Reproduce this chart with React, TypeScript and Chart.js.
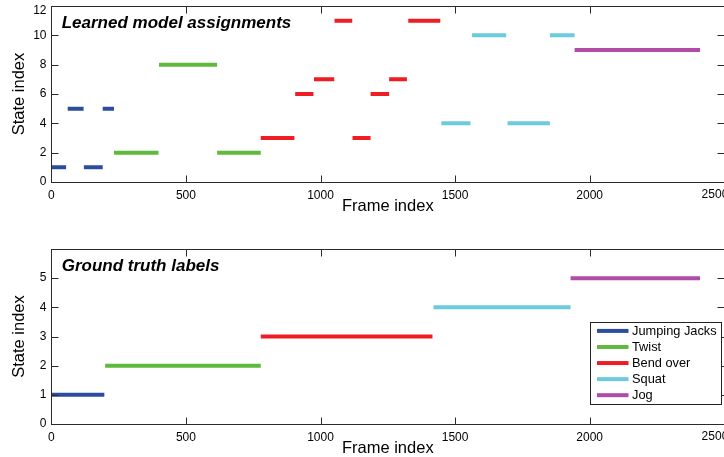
import React, { useEffect, useRef } from 'react';
import { Chart, registerables } from 'chart.js';

Chart.register(...registerables);

// ---- data ----
const activities = ['Jumping Jacks', 'Twist', 'Bend over', 'Squat', 'Jog'];

// Learned model assignments: segments (frame start, frame end, state index, activity)
const learnedStart = [0, 61, 121, 191, 233, 400, 616, 778, 906, 976, 1052, 1119, 1186, 1255, 1326, 1449, 1563, 1695, 1852, 1944];
const learnedEnd = [55, 120, 191, 233, 398, 616, 778, 903, 974, 1051, 1118, 1186, 1255, 1321, 1445, 1557, 1690, 1852, 1944, 2410];
const learnedState = [1, 5, 1, 5, 2, 8, 2, 3, 6, 7, 11, 3, 6, 7, 11, 4, 10, 4, 10, 9];
const learnedActivity = [0, 0, 0, 0, 1, 1, 1, 2, 2, 2, 2, 2, 2, 2, 2, 3, 3, 3, 3, 4];

// Ground truth labels
const truthStart = [0, 200, 778, 1420, 1929];
const truthEnd = [197, 778, 1416, 1929, 2410];
const truthState = [1, 2, 3, 4, 5];
const truthActivity = [0, 1, 2, 3, 4];

const xTickStep = 500;
const xMax = 2500;
const topYMax = 12;
const topYStep = 2;
const botYMax = 6;
const botYLastTick = 5;

// ---- styles ----
const colors = ['#2b4c9f', '#5dba3d', '#ee1d24', '#6bcbdc', '#b24ba5'];
const FAMILY = '"Liberation Sans", Arial, Helvetica, sans-serif';

function buildDatasets(starts: number[], ends: number[], states: number[], acts: number[]) {
  return activities.map((name, k) => {
    const data: { x: number; y: number | null }[] = [];
    for (let i = 0; i < starts.length; i++) {
      if (acts[i] !== k) continue;
      data.push({ x: starts[i], y: states[i] }, { x: ends[i], y: states[i] }, { x: ends[i], y: null });
    }
    return {
      label: name,
      data,
      borderColor: colors[k],
      backgroundColor: colors[k],
      borderWidth: 4,
      pointRadius: 0,
      pointHoverRadius: 0,
      borderCapStyle: 'butt' as const,
      spanGaps: false,
      fill: false,
      tension: 0,
    };
  });
}

const panelPlugin = {
  id: 'panel',
  afterDatasetsDraw(chart: any, _args: any, opts: any) {
    const { ctx, chartArea: a, scales } = chart;
    ctx.save();
    const L = Math.round(a.left) + 0.5;
    const R = Math.round(a.right) + 0.5;
    const T = Math.round(a.top) + 0.5;
    const B = Math.round(a.bottom) + 0.5;
    ctx.strokeStyle = '#2a2a2a';
    ctx.lineWidth = 1;
    ctx.strokeRect(L, T, R - L, B - T);
    const tl = 7;
    ctx.beginPath();
    scales.x.ticks.forEach((t: any) => {
      const px = Math.round(scales.x.getPixelForValue(t.value)) + 0.5;
      ctx.moveTo(px, B);
      ctx.lineTo(px, B - tl);
      ctx.moveTo(px, T);
      ctx.lineTo(px, T + tl);
    });
    scales.y.ticks.forEach((t: any) => {
      const py = Math.round(scales.y.getPixelForValue(t.value)) + 0.5;
      ctx.moveTo(L, py);
      ctx.lineTo(L + tl, py);
      ctx.moveTo(R, py);
      ctx.lineTo(R - tl, py);
    });
    ctx.stroke();

    ctx.fillStyle = '#000';
    ctx.font = `12px ${FAMILY}`;
    // top y label pushed inside the visible figure (as in the original crop)
    if (opts && opts.topLabel) {
      ctx.textAlign = 'right';
      ctx.textBaseline = 'middle';
      ctx.fillText(opts.topLabel, a.left - 4.8, a.top + 5);
    }
    // last x label shifted left, partly cut by the figure edge
    if (opts && opts.lastXLabel) {
      ctx.textAlign = 'right';
      ctx.textBaseline = 'top';
      ctx.fillText(opts.lastXLabel, a.right + 4, a.bottom + 6.5);
    }

    if (opts && opts.title) {
      ctx.fillStyle = '#000';
      ctx.font = `italic bold 17px ${FAMILY}`;
      ctx.textAlign = 'left';
      ctx.textBaseline = 'alphabetic';
      ctx.fillText(opts.title, a.left + 10.4, a.top + 21.8);
    }

    if (opts && opts.legend) {
      const bx = Math.round(a.right - 134.3) + 0.5;
      const by = Math.round(a.top + 73.3) + 0.5;
      const bw = 131;
      const bh = 82;
      ctx.fillStyle = '#fff';
      ctx.fillRect(bx, by, bw, bh);
      ctx.strokeStyle = '#222';
      ctx.lineWidth = 1;
      ctx.strokeRect(bx, by, bw, bh);
      ctx.font = `12.8px ${FAMILY}`;
      ctx.textAlign = 'left';
      ctx.textBaseline = 'middle';
      chart.data.datasets.forEach((ds: any, i: number) => {
        const y = by + 8.4 + i * 16.07;
        ctx.strokeStyle = ds.borderColor;
        ctx.lineWidth = 4;
        ctx.lineCap = 'butt';
        ctx.beginPath();
        ctx.moveTo(bx + 6.5, y);
        ctx.lineTo(bx + 38, y);
        ctx.stroke();
        ctx.fillStyle = '#000';
        ctx.fillText(ds.label, bx + 41.5, y + 0.5);
      });
    }
    ctx.restore();
  },
};

function makeOptions(padTop: number, padBottom: number, yMax: number, yStep: number, yLast: number, title: string, legend: boolean, liftTop: boolean): any {
  const tickFont = { family: FAMILY, size: 12 };
  const titleFont = { family: FAMILY, size: 16.5 };
  return {
    animation: false,
    responsive: false,
    maintainAspectRatio: false,
    events: [],
    layout: { padding: { top: padTop, bottom: padBottom, left: 0, right: 35.7 } },
    plugins: {
      legend: { display: false },
      tooltip: { enabled: false },
      panel: { title, legend, topLabel: liftTop ? String(yMax) : '', lastXLabel: String(xMax) },
    },
    scales: {
      x: {
        type: 'linear',
        min: 0,
        max: xMax,
        grid: { display: false, drawTicks: false, tickLength: 0 },
        border: { display: false },
        ticks: {
          stepSize: xTickStep,
          font: tickFont,
          color: '#000',
          padding: 6.5,
          maxRotation: 0,
          autoSkip: false,
          callback: (v: any) => (v === xMax ? '' : String(v)),
        },
        title: { display: true, text: 'Frame index', font: titleFont, color: '#000', padding: { top: 0, bottom: 0 } },
        afterFit: (s: any) => {
          s.height = 34.6;
        },
      },
      y: {
        type: 'linear',
        min: 0,
        max: yMax,
        grid: { display: false, drawTicks: false, tickLength: 0 },
        border: { display: false },
        ticks: {
          stepSize: yStep,
          font: tickFont,
          color: '#000',
          padding: 4.8,
          autoSkip: false,
          callback: (v: any) => (liftTop && v === yMax ? '' : String(v)),
        },
        title: { display: true, text: 'State index', font: titleFont, color: '#000', padding: { top: 9.6, bottom: 0 } },
        afterBuildTicks: (s: any) => {
          s.ticks = s.ticks.filter((t: any) => t.value <= yLast);
        },
        afterFit: (s: any) => {
          s.width = 51.3;
        },
      },
    },
  };
}

export default function App() {
  const topRef = useRef<HTMLCanvasElement>(null);
  const botRef = useRef<HTMLCanvasElement>(null);

  useEffect(() => {
    const c1 = new Chart(topRef.current as HTMLCanvasElement, {
      type: 'line',
      data: { datasets: buildDatasets(learnedStart, learnedEnd, learnedState, learnedActivity) as any },
      options: makeOptions(20, 9.4, topYMax, topYStep, topYMax, 'Learned model assignments', false, true),
      plugins: [panelPlugin],
    });
    const c2 = new Chart(botRef.current as HTMLCanvasElement, {
      type: 'line',
      data: { datasets: buildDatasets(truthStart, truthEnd, truthState, truthActivity) as any },
      options: makeOptions(19, 11.4, botYMax, 1, botYLastTick, 'Ground truth labels', true, false),
      plugins: [panelPlugin],
    });
    return () => {
      c1.destroy();
      c2.destroy();
    };
  }, []);

  return (
    <div style={{ position: 'fixed', left: 0, top: 0, width: 724, height: 457, overflow: 'hidden', background: '#fff' }}>
      <canvas ref={topRef} width={760} height={240} style={{ position: 'absolute', left: 0, top: -14, width: 760, height: 240 }} />
      <canvas ref={botRef} width={760} height={240} style={{ position: 'absolute', left: 0, top: 230, width: 760, height: 240 }} />
    </div>
  );
}
